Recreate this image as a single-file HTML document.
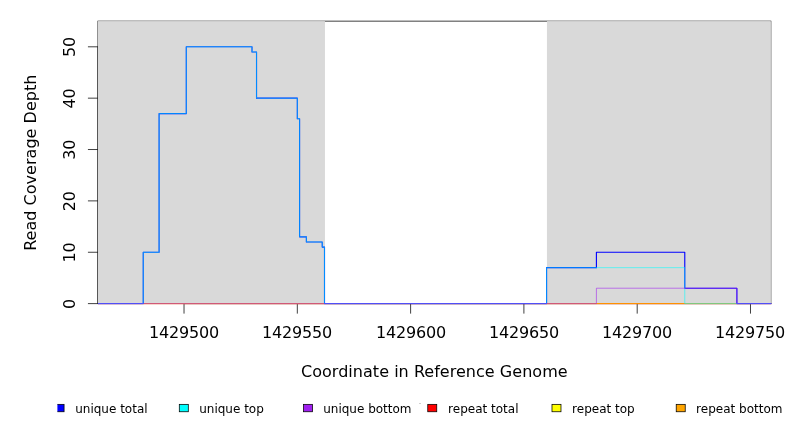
<!DOCTYPE html>
<html lang="en"><head><meta charset="utf-8"><title>Read Coverage Depth</title>
<style>html,body{margin:0;padding:0;background:#fff;overflow:hidden}svg{display:block}text{font-family:"DejaVu Sans","Liberation Sans",sans-serif;fill:#000}</style></head><body>
<svg width="792" height="432" viewBox="0 0 792 432">
<rect x="0" y="0" width="792" height="432" fill="#fff"/>
<rect x="97.92" y="21.12" width="672.96" height="282.50" fill="none" stroke="#000" stroke-width="0.75"/>
<g stroke="#000" stroke-width="0.75" fill="none" stroke-linecap="round">
<path d="M184.02 303.62H750.49"/>
<path d="M184.02 303.62v9.6"/>
<path d="M297.32 303.62v9.6"/>
<path d="M410.61 303.62v9.6"/>
<path d="M523.90 303.62v9.6"/>
<path d="M637.19 303.62v9.6"/>
<path d="M750.49 303.62v9.6"/>
<path d="M97.92 303.62V46.80"/>
<path d="M97.92 303.62h-9.6"/>
<path d="M97.92 252.26h-9.6"/>
<path d="M97.92 200.89h-9.6"/>
<path d="M97.92 149.53h-9.6"/>
<path d="M97.92 98.17h-9.6"/>
<path d="M97.92 46.80h-9.6"/>
</g>
<rect x="97.92" y="21.12" width="227.03" height="283.00" fill="#d9d9d9"/>
<rect x="546.95" y="21.12" width="223.93" height="283.00" fill="#d9d9d9"/>
<defs><clipPath id="pc"><rect x="97.92" y="21.12" width="673.96" height="283.50"/></clipPath></defs>
<g fill="none" stroke-linejoin="round" stroke-linecap="butt" clip-path="url(#pc)">
<path d="M97.92 303.62 L771.48 303.62" stroke="#ff0000" stroke-width="1.125"/>
<path d="M97.92 303.62 L771.48 303.62" stroke="#ffff00" stroke-width="0.5625"/>
<path d="M97.92 303.62 L771.48 303.62" stroke="#ffa500" stroke-width="0.5625"/>
<path d="M97.92 303.62 L143.24 303.62 L143.24 252.26 L159.10 252.26 L159.10 113.57 L186.29 113.57 L186.29 46.80 L252.00 46.80 L252.00 51.94 L256.53 51.94 L256.53 98.17 L297.32 98.17 L297.32 118.71 L299.58 118.71 L299.58 236.85 L306.38 236.85 L306.38 241.98 L322.24 241.98 L322.24 247.12 L324.51 247.12 L324.51 303.62 L546.56 303.62 L546.56 267.67 L596.41 267.67 L596.41 252.26 L684.78 252.26 L684.78 288.21 L736.89 288.21 L736.89 303.62 L771.48 303.62" stroke="#0000ff" stroke-width="1.125"/>
<path d="M97.92 303.62 L143.24 303.62 L143.24 252.26 L159.10 252.26 L159.10 113.57 L186.29 113.57 L186.29 46.80 L252.00 46.80 L252.00 51.94 L256.53 51.94 L256.53 98.17 L297.32 98.17 L297.32 118.71 L299.58 118.71 L299.58 236.85 L306.38 236.85 L306.38 241.98 L322.24 241.98 L322.24 247.12 L324.51 247.12 L324.51 303.62 L546.56 303.62 L546.56 267.67 L684.78 267.67 L684.78 303.62 L771.48 303.62" stroke="#00ffff" stroke-width="0.5625"/>
<path d="M97.92 303.62 L596.41 303.62 L596.41 288.21 L736.89 288.21 L736.89 303.62 L771.48 303.62" stroke="#a020f0" stroke-width="0.5625"/>
</g>
<g font-size="16px" text-anchor="middle">
<text x="149" y="338.38" letter-spacing="-0.18" text-anchor="start">1429500</text>
<text x="262" y="338.38" letter-spacing="-0.18" text-anchor="start">1429550</text>
<text x="376" y="338.38" letter-spacing="-0.18" text-anchor="start">1429600</text>
<text x="489" y="338.38" letter-spacing="-0.18" text-anchor="start">1429650</text>
<text x="602" y="338.38" letter-spacing="-0.18" text-anchor="start">1429700</text>
<text x="715" y="338.38" letter-spacing="-0.18" text-anchor="start">1429750</text>
<text transform="translate(74.88 303.92) rotate(-90)" letter-spacing="-0.18">0</text>
<text transform="translate(74.88 252.56) rotate(-90)" letter-spacing="-0.18">10</text>
<text transform="translate(74.88 201.19) rotate(-90)" letter-spacing="-0.18">20</text>
<text transform="translate(74.88 149.83) rotate(-90)" letter-spacing="-0.18">30</text>
<text transform="translate(74.88 98.47) rotate(-90)" letter-spacing="-0.18">40</text>
<text transform="translate(74.88 47.10) rotate(-90)" letter-spacing="-0.18">50</text>
<text x="301" y="376.88" letter-spacing="0.03" text-anchor="start">Coordinate in Reference Genome</text>
<text transform="translate(36.48 162.67) rotate(-90)" letter-spacing="0.03">Read Coverage Depth</text>
</g>
<defs><clipPath id="lc"><rect x="57.4" y="380" width="740" height="60"/></clipPath></defs>
<g clip-path="url(#lc)" stroke="#000" stroke-width="0.75">
<rect x="55.07" y="404.35" width="9.00" height="7.4" fill="#0000ff"/>
<rect x="179.30" y="404.35" width="9.00" height="7.4" fill="#00ffff"/>
<rect x="303.53" y="404.35" width="9.00" height="7.4" fill="#a020f0"/>
<rect x="427.76" y="404.35" width="9.00" height="7.4" fill="#ff0000"/>
<rect x="551.99" y="404.35" width="9.00" height="7.4" fill="#ffff00"/>
<rect x="676.22" y="404.35" width="9.00" height="7.4" fill="#ffa500"/>
</g>
<rect x="419" y="403" width="2" height="1" fill="#cfcfcf"/>
<g font-size="12px">
<text x="75.20" y="412.6">unique total</text>
<text x="199.20" y="412.6">unique top</text>
<text x="323.20" y="412.6">unique bottom</text>
<text x="448.10" y="412.6">repeat total</text>
<text x="572.10" y="412.6">repeat top</text>
<text x="696.10" y="412.6">repeat bottom</text>
</g>
</svg></body></html>
